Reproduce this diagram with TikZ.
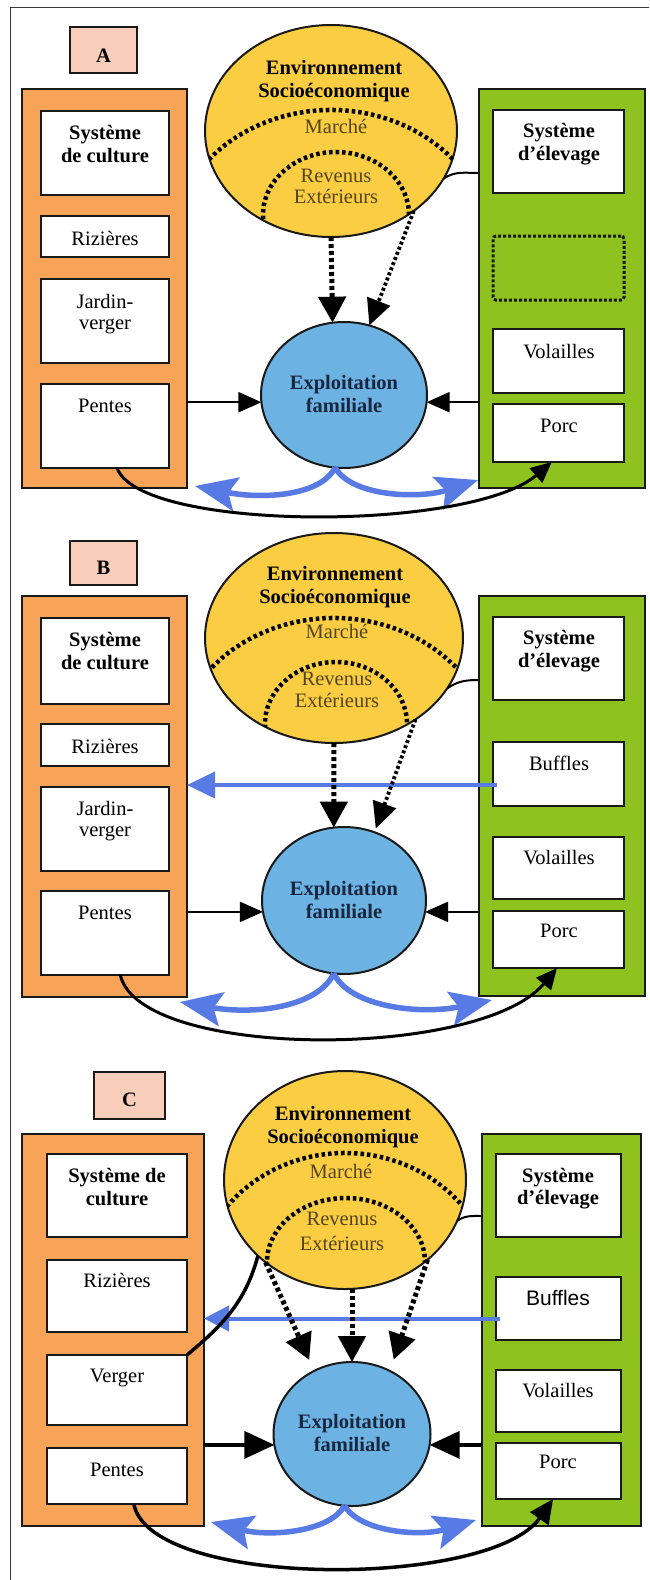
\documentclass[tikz,border=0pt]{standalone}
\usepackage{fontspec}
\setmainfont{Liberation Serif}
\newfontfamily\sansfam{Liberation Sans}
\usetikzlibrary{arrows.meta,shapes.geometric,calc}

\definecolor{cultorange}{RGB}{247,164,88}
\definecolor{elevgreen}{RGB}{141,194,31}
\definecolor{envyellow}{RGB}{250,205,66}
\definecolor{famblue}{RGB}{108,178,226}
\definecolor{flowblue}{RGB}{88,122,228}
\definecolor{tagpeach}{RGB}{248,205,186}
\definecolor{innertext}{RGB}{84,68,24}
\definecolor{famtext}{RGB}{24,38,64}
\definecolor{framegray}{RGB}{55,55,55}
\definecolor{edge}{RGB}{25,25,25}

% two centred lines whose node baseline is the first line
\newcommand\twolines[2]{\begin{tabular}[t]{@{}c@{}}#1\\#2\end{tabular}}

\begin{document}
\begin{tikzpicture}[x=1pt,y=-1pt,
  every node/.style={inner sep=0pt,outer sep=0pt},
  txt/.style={font=\fontsize{20.5}{23}\selectfont,anchor=base,text=black},
  btxt/.style={font=\fontsize{20.5}{23}\selectfont\bfseries,anchor=base,text=black},
  softtxt/.style={txt,text=innertext},
  famtxt/.style={btxt,text=famtext},
  tagbox/.style={draw=edge,line width=1.8pt,fill=tagpeach},
  cultbox/.style={draw=edge,line width=2pt,fill=cultorange},
  elevbox/.style={draw=edge,line width=2pt,fill=elevgreen},
  wbox/.style={draw=edge,line width=2pt,fill=white},
  envshape/.style={ellipse,draw=edge,line width=2pt,fill=envyellow},
  famshape/.style={ellipse,draw=edge,line width=2pt,fill=famblue},
  dotarc/.style={line width=4.5pt,dash pattern=on 3.5pt off 3pt,draw=black},
  dotarrow/.style={line width=5pt,dash pattern=on 4pt off 3pt,-{Triangle[length=26pt,width=27pt]}},
  dotarrowthin/.style={line width=3.8pt,dash pattern=on 3pt off 2.5pt,-{Triangle[length=26pt,width=24pt]}},
  flowarrow/.style={line width=2.2pt,-{Triangle[length=23pt,width=20pt]}},
  flowarrowbig/.style={line width=3.5pt,-{Triangle[length=30pt,width=27pt]}},
  thinlink/.style={line width=2pt},
  thicklink/.style={line width=3.5pt},
  loopblack/.style={line width=3pt,-{Triangle[length=21pt,width=19pt]}},
  bluecurve/.style={line width=5.5pt,draw=flowblue,-{Stealth[length=42pt,width=34pt,inset=8pt]}},
  bluebar/.style={line width=4pt,draw=flowblue,-{Triangle[length=28pt,width=26pt]}},
]
\useasboundingbox (0,0) rectangle (649,1580);
\fill[white] (0,0) rectangle (649,1580);

% page frame
\draw[line width=1.5pt,draw=framegray] (10.5,1580) -- (10.5,7.5) -- (649,7.5);

% ================= A =================
\node[tagbox,minimum width=67pt,minimum height=46pt] (tagA) at (103.5,50) {};
\node[btxt] (tagA-t) at (103.5,62) {A};

\node[cultbox,minimum width=165pt,minimum height=399pt] (orangeA) at (104.5,288.5) {};
\node[wbox,minimum width=128pt,minimum height=84pt] (cultA) at (105,153) {};
\node[wbox,minimum width=128pt,minimum height=41pt] (rizA) at (105,236.5) {};
\node[wbox,minimum width=128pt,minimum height=84pt] (jardA) at (105,321) {};
\node[wbox,minimum width=128pt,minimum height=84pt] (pentA) at (105,426) {};
\node[btxt] (cultA-t) at (105,139) {\twolines{Système}{de culture}};
\node[txt] (rizA-t) at (105,245) {Rizières};
\node[txt,font=\fontsize{20.5}{21}\selectfont] (jardA-t) at (105,308) {\twolines{Jardin-}{verger}};
\node[txt] (pentA-t) at (105,412) {Pentes};

\node[elevbox,minimum width=166pt,minimum height=399pt] (greenA) at (562,288.5) {};
\node[wbox,minimum width=131pt,minimum height=83pt] (elevA) at (558.5,151.5) {};
\node[elevbox,line width=3pt,dash pattern=on 3pt off 2pt,rounded corners=3pt,
      minimum width=131pt,minimum height=64pt] (dotA) at (558.5,268) {};
\node[wbox,minimum width=131pt,minimum height=64pt] (volA) at (558.5,361) {};
\node[wbox,minimum width=131pt,minimum height=58pt] (porcA) at (558.5,433) {};
\node[btxt] (elevA-t) at (559,137) {\twolines{Système}{d’élevage}};
\node[txt] (volA-t) at (559,358) {Volailles};
\node[txt] (porcA-t) at (559,432) {Porc};

\node[envshape,minimum width=252pt,minimum height=212pt] (envA) at (331,131) {};
\begin{scope}
  \clip (envA.center) ellipse [x radius=126pt,y radius=106pt];
  \draw[dotarc] ($(envA.center)+(0,119)$) ++(155:160pt and 140pt)
    arc[start angle=155,end angle=25,x radius=160pt,y radius=140pt];
  \draw[dotarc] ($(envA.center)+(-68,114)$) -- ($(envA.center)+(-68,84)$)
    arc[start angle=180,end angle=0,x radius=73pt,y radius=63pt] -- ++(0,30);
\end{scope}
\node[btxt] (envA-t) at (334,74) {\twolines{Environnement}{Socioéconomique}};
\node[softtxt] (mktA-t) at (336,133) {Marché};
\node[softtxt,font=\fontsize{20.5}{21}\selectfont] (revA-t) at (336,182) {\twolines{Revenus}{Extérieurs}};

\node[famshape,minimum width=166pt,minimum height=146pt] (famA) at (344,395) {};
\node[famtxt] (famA-t) at (344,389) {\twolines{Exploitation}{familiale}};

\draw[thinlink] (envA.-23) to[out=35,in=180] ($(greenA.north west)+(0,84)$);
\draw[dotarrow] (envA.south) -- (famA.99);
\draw[dotarrowthin] (envA.-44) -- (famA.70);
\draw[flowarrow] (famA.185 -| orangeA.east) -- (famA.185);
\draw[flowarrow] (famA.-5 -| greenA.west) -- (famA.-5);
\coordinate (blA) at (195,486);
\coordinate (brA) at (478,480);
\draw[bluecurve] (famA.-97) .. controls (320,497) and (260,499) .. (blA);
\draw[bluecurve] (famA.-97) .. controls (352,497) and (420,499) .. (brA);
\draw[loopblack] (pentA.-74) .. controls (140,532) and (470,532) .. (porcA.-103);

% ================= B =================
\node[tagbox,minimum width=67pt,minimum height=44pt] (tagB) at (103.5,563) {};
\node[btxt] (tagB-t) at (103.5,574) {B};

\node[cultbox,minimum width=165pt,minimum height=401pt] (orangeB) at (104.5,796.5) {};
\node[wbox,minimum width=128pt,minimum height=86pt] (cultB) at (105,661) {};
\node[wbox,minimum width=128pt,minimum height=42pt] (rizB) at (105,745) {};
\node[wbox,minimum width=128pt,minimum height=84pt] (jardB) at (105,829) {};
\node[wbox,minimum width=128pt,minimum height=84pt] (pentB) at (105,933) {};
\node[btxt] (cultB-t) at (105,646) {\twolines{Système}{de culture}};
\node[txt] (rizB-t) at (105,753) {Rizières};
\node[txt,font=\fontsize{20.5}{21}\selectfont] (jardB-t) at (105,815) {\twolines{Jardin-}{verger}};
\node[txt] (pentB-t) at (105,919) {Pentes};

\node[elevbox,minimum width=166pt,minimum height=400pt] (greenB) at (562,796) {};
\node[wbox,minimum width=131pt,minimum height=83pt] (elevB) at (558.5,658.5) {};
\node[wbox,minimum width=131pt,minimum height=64pt] (buffB) at (558.5,774) {};
\node[wbox,minimum width=131pt,minimum height=62pt] (volB) at (558.5,868) {};
\node[wbox,minimum width=131pt,minimum height=57pt] (porcB) at (558.5,939.5) {};
\node[btxt] (elevB-t) at (559,644) {\twolines{Système}{d’élevage}};
\node[txt] (buffB-t) at (559,770) {Buffles};
\node[txt] (volB-t) at (559,864) {Volailles};
\node[txt] (porcB-t) at (559,937) {Porc};

\node[envshape,minimum width=258pt,minimum height=210pt] (envB) at (334,638) {};
\begin{scope}
  \clip (envB.center) ellipse [x radius=129pt,y radius=105pt];
  \draw[dotarc] ($(envB.center)+(0,120)$) ++(155:160pt and 140pt)
    arc[start angle=155,end angle=25,x radius=160pt,y radius=140pt];
  \draw[dotarc] ($(envB.center)+(-69,116)$) -- ($(envB.center)+(-69,86)$)
    arc[start angle=180,end angle=0,x radius=71pt,y radius=62pt] -- ++(0,30);
\end{scope}
\node[btxt] (envB-t) at (335,580) {\twolines{Environnement}{Socioéconomique}};
\node[softtxt] (mktB-t) at (337,638) {Marché};
\node[softtxt,font=\fontsize{20.5}{22}\selectfont] (revB-t) at (337,685) {\twolines{Revenus}{Extérieurs}};

\node[famshape,minimum width=164pt,minimum height=147pt] (famB) at (344,900.5) {};
\node[famtxt] (famB-t) at (344,895) {\twolines{Exploitation}{familiale}};

\draw[thinlink] (envB.-24) to[out=35,in=180] ($(greenB.north west)+(0,84)$);
\coordinate (barB) at ($(buffB.west)+(4,11)$);
\draw[bluebar] (barB) -- (barB -| orangeB.east);
\draw[dotarrow] (envB.south) -- (famB.98);
\draw[dotarrowthin,shorten >=4pt] (envB.-45) -- (famB.66);
\draw[flowarrow] (famB.188 -| orangeB.east) -- (famB.188);
\draw[flowarrow] (famB.-8 -| greenB.west) -- (famB.-8);
\coordinate (blB) at (180,1002);
\coordinate (brB) at (492,1000);
\draw[bluecurve] (famB.-98) .. controls (318,1007) and (255,1015) .. (blB);
\draw[bluecurve] (famB.-98) .. controls (350,1007) and (420,1015) .. (brB);
\draw[loopblack] (pentB.-70) .. controls (140,1060) and (480,1060) .. (porcB.-93);

% ================= C =================
\node[tagbox,minimum width=71pt,minimum height=47pt] (tagC) at (129.5,1095.5) {};
\node[btxt] (tagC-t) at (129.5,1106) {C};

\node[cultbox,minimum width=182pt,minimum height=392pt] (orangeC) at (113,1330) {};
\node[wbox,minimum width=140pt,minimum height=83pt] (cultC) at (117,1195.5) {};
\node[wbox,minimum width=140pt,minimum height=72pt] (rizC) at (117,1296) {};
\node[wbox,minimum width=140pt,minimum height=70pt] (vergC) at (117,1390) {};
\node[wbox,minimum width=140pt,minimum height=56pt] (pentC) at (117,1476) {};
\node[btxt] (cultC-t) at (117,1182) {\twolines{Système de}{culture}};
\node[txt] (rizC-t) at (117,1287) {Rizières};
\node[txt] (vergC-t) at (117,1382) {Verger};
\node[txt] (pentC-t) at (117,1476) {Pentes};

\node[elevbox,minimum width=159pt,minimum height=392pt] (greenC) at (561.5,1330) {};
\node[wbox,minimum width=125pt,minimum height=83pt] (elevC) at (558.5,1195.5) {};
\node[wbox,minimum width=125pt,minimum height=63pt] (buffC) at (558.5,1308.5) {};
\node[wbox,minimum width=125pt,minimum height=62pt] (volC) at (558.5,1401) {};
\node[wbox,minimum width=125pt,minimum height=56pt] (porcC) at (558.5,1471) {};
\node[btxt,font=\fontsize{20.5}{22}\selectfont\bfseries] (elevC-t) at (558,1182) {\twolines{Système}{d’élevage}};
\node[txt,font=\fontsize{21}{22}\sansfam] (buffC-t) at (558,1305) {Buffles};
\node[txt] (volC-t) at (558,1397) {Volailles};
\node[txt] (porcC-t) at (558,1468) {Porc};

\node[envshape,minimum width=242pt,minimum height=218pt] (envC) at (345,1180) {};
\begin{scope}
  \clip (envC.center) ellipse [x radius=121pt,y radius=109pt];
  \draw[dotarc] ($(envC.center)+(0,113)$) ++(155:150pt and 140pt)
    arc[start angle=155,end angle=25,x radius=150pt,y radius=140pt];
  \draw[dotarc] ($(envC.center)+(-78,112)$) -- ($(envC.center)+(-78,82)$)
    arc[start angle=180,end angle=0,x radius=79pt,y radius=64pt] -- ++(0,30);
\end{scope}
\node[btxt] (envC-t) at (343,1120) {\twolines{Environnement}{Socioéconomique}};
\node[softtxt] (mktC-t) at (341,1178) {Marché};
\node[softtxt,font=\fontsize{20.5}{25}\selectfont] (revC-t) at (342,1225) {\twolines{Revenus}{Extérieurs}};

\node[famshape,minimum width=157pt,minimum height=144pt] (famC) at (352,1434) {};
\node[famtxt] (famC-t) at (352,1428) {\twolines{Exploitation}{familiale}};

\draw[thinlink] (envC.-20) to[out=35,in=180] ($(greenC.north west)+(0,82)$);
\coordinate (barC) at ($(buffC.west)+(4,10)$);
\draw[bluebar,-{Triangle[length=25pt,width=25pt]}] (barC) -- (barC -| orangeC.east);
\draw[dotarrow,shorten >=12pt] (envC.226) -- (famC.121);
\draw[dotarrow] (famC.north |- envC.south) -- (famC.north);
\draw[dotarrow,shorten >=12pt] (envC.-44) -- (famC.59);
\draw[thicklink] (vergC.north east) to[out=40,in=255] (envC.221);
\draw[flowarrowbig] (famC.188 -| orangeC.east) -- (famC.188);
\draw[flowarrowbig] (famC.-8 -| greenC.west) -- (famC.-8);
\coordinate (blC) at (211,1522);
\coordinate (brC) at (476,1520);
\draw[bluecurve] (famC.-96) .. controls (330,1532) and (270,1537) .. (blC);
\draw[bluecurve] (famC.-96) .. controls (360,1532) and (420,1537) .. (brC);
\draw[loopblack,line width=3.5pt,-{Triangle[length=24pt,width=22pt]}] (pentC.-59) .. controls (150,1589) and (490,1589) .. (porcC.-101);

\end{tikzpicture}
\end{document}
